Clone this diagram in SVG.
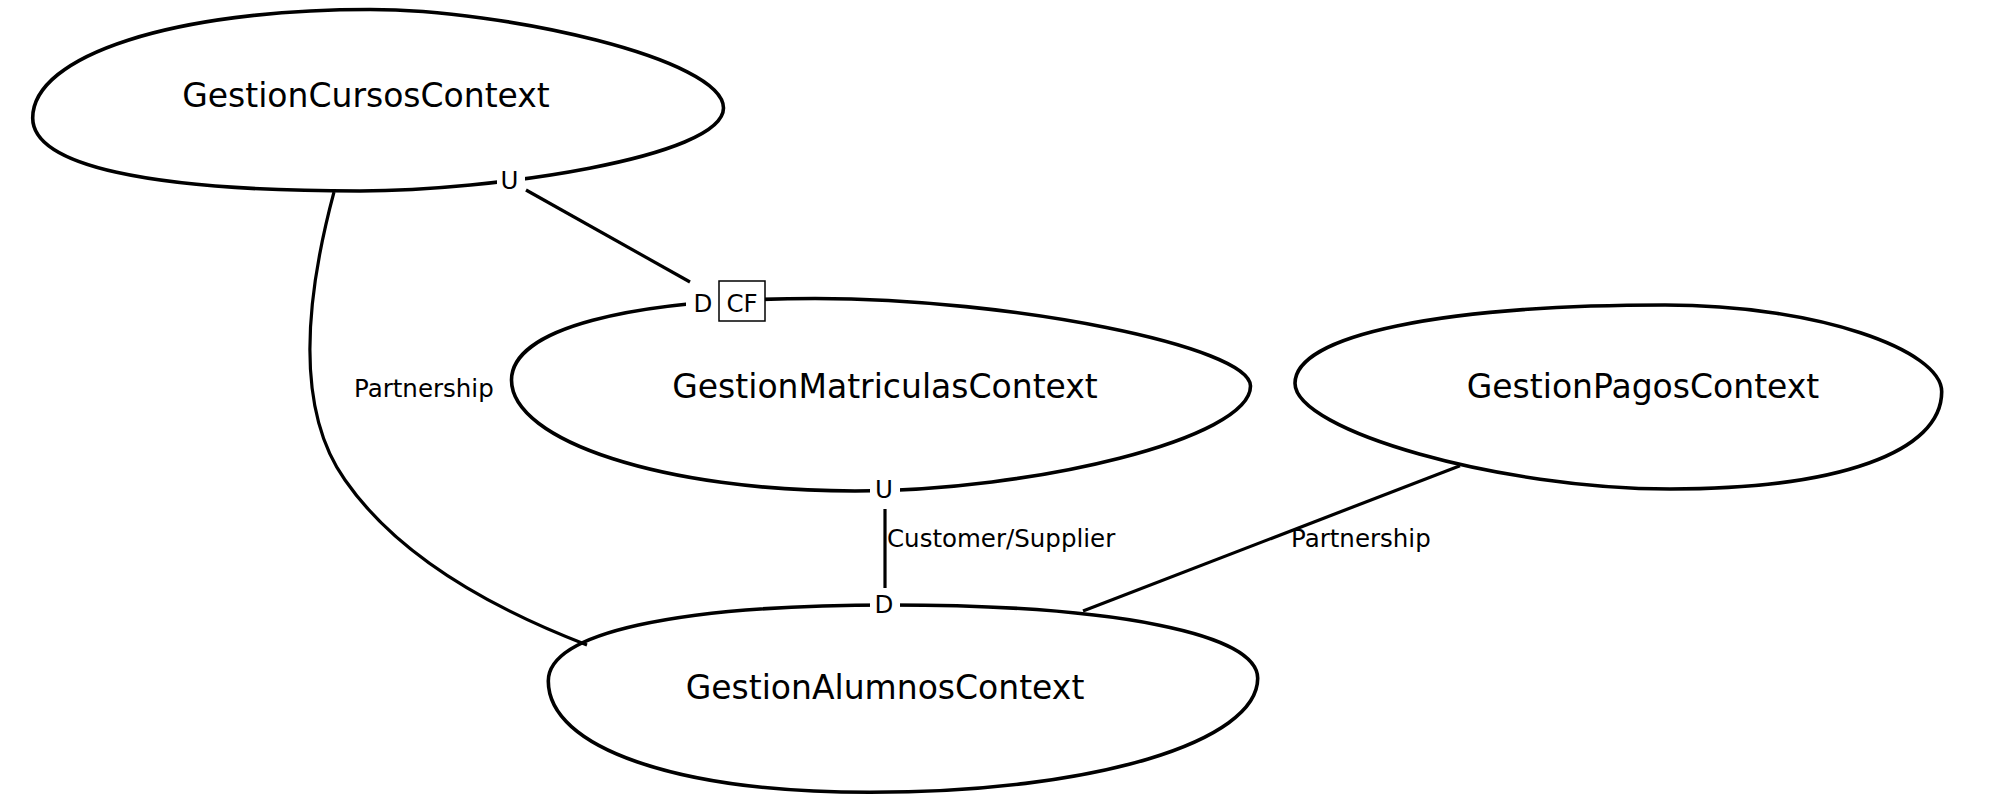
<svg xmlns="http://www.w3.org/2000/svg" width="2000" height="801" viewBox="0 0 2000 801">
<style>
.ctx{fill:#fff;stroke:#000;stroke-width:3.6}
.name{font-family:"DejaVu Sans",sans-serif;font-size:33px;fill:#000;text-anchor:middle}
.lbl{font-family:"DejaVu Sans",sans-serif;font-size:24.5px;fill:#000}
.end{font-family:"DejaVu Sans",sans-serif;font-size:24.5px;fill:#000;text-anchor:middle}
.conn{fill:none;stroke:#000;stroke-width:3.2}
.bg{fill:#fff;stroke:none}
</style>
<rect width="2000" height="801" fill="#fff"/>
<g id="GestionCursosContext">
<path class="ctx" d="M32.7,118 C32.7,55.1 174.4,9.5 370,9.5 C504.3,9.5 723.5,58.75 723.5,108 C723.5,157.8 487.2,191 360,191 C147.3,191 32.7,165.5 32.7,118 Z"/>
<text class="name" x="366" y="107">GestionCursosContext</text>
</g>
<g id="GestionMatriculasContext">
<path class="ctx" d="M511.5,380 C511.5,329.5 626.8,298.5 815,298.5 C1011,298.5 1250.5,346.6 1250.5,386 C1250.5,438.5 1033,491 855,491 C665.3,491 511.5,441.3 511.5,380 Z"/>
<text class="name" x="885" y="398">GestionMatriculasContext</text>
</g>
<g id="GestionPagosContext">
<path class="ctx" d="M1295,383.3 C1295,334.75 1443,305 1665,305 C1817.2,305 1941.7,350.1 1941.7,391.7 C1941.7,452 1838.5,489 1670,489 C1501.25,489 1295,430.9 1295,383.3 Z"/>
<text class="name" x="1643" y="398">GestionPagosContext</text>
</g>
<g id="GestionAlumnosContext">
<path class="ctx" d="M548.3,681 C548.3,633.1 674.7,605 890,605 C1118,605 1257.7,634.3 1257.7,678.3 C1257.7,741.3 1094.9,792.3 870,792.3 C677,792.3 548.3,747.8 548.3,681 Z"/>
<text class="name" x="885" y="699">GestionAlumnosContext</text>
</g>
<g id="connectors">
<line class="conn" x1="526" y1="190" x2="690" y2="282"/>
<path class="conn" d="M334,192 C305,300 295,410 345,480 C390,545 470,600 587,645"/>
<line class="conn" x1="885" y1="509" x2="885" y2="588"/>
<line class="conn" x1="1460" y1="465.7" x2="1083" y2="611"/>
<rect class="bg" x="497" y="168" width="28" height="26"/>
<text class="end" x="509.5" y="188.5">U</text>
<rect class="bg" x="686" y="288" width="33" height="26"/>
<text class="end" x="703" y="311.5">D</text>
<rect x="719" y="281" width="46" height="40" fill="#fff" stroke="#000" stroke-width="1.5"/>
<text class="end" x="742" y="311.5">CF</text>
<rect class="bg" x="870" y="476" width="30" height="26"/>
<text class="end" x="884" y="498">U</text>
<rect class="bg" x="870" y="592" width="30" height="26"/>
<text class="end" x="884" y="613">D</text>
<text class="lbl" x="354" y="397">Partnership</text>
<text class="lbl" x="887" y="547">Customer/Supplier</text>
<text class="lbl" x="1291" y="547">Partnership</text>
</g>
</svg>
